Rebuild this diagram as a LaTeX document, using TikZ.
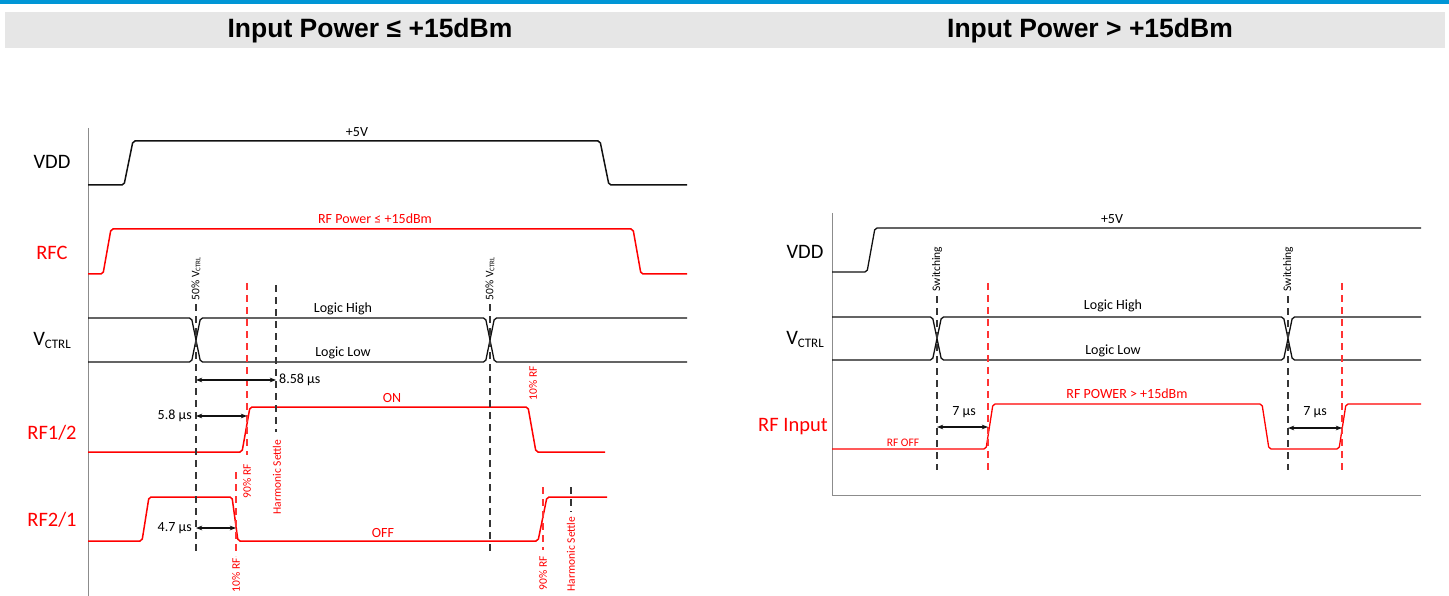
\documentclass[tikz,border=0pt]{standalone}
\usepackage{fontspec}
\setmainfont{Carlito}
\newfontfamily\headfont{Liberation Sans}
\usepackage{tikz}
\usetikzlibrary{positioning,arrows.meta,calc}
\definecolor{rfred}{HTML}{FF0000}
\definecolor{ink}{HTML}{111111}
\definecolor{hdrblue}{HTML}{0096D6}
\definecolor{hdrbg}{HTML}{E6E6E6}
\definecolor{axisgray}{HTML}{8C8C8C}
\tikzset{
  hdr/.style={font=\headfont\bfseries\fontsize{26.5}{26.5}\selectfont,text=black},
  sig/.style={font=\fontsize{20.5}{20.5}\selectfont,text=black},
  sigr/.style={sig,text=rfred},
  lvl/.style={font=\fontsize{14}{14}\selectfont,text=black,inner sep=1pt},
  lvlr/.style={lvl,text=rfred},
  tag/.style={font=\fontsize{11.5}{11.5}\selectfont,rotate=90,inner sep=1pt,text=black},
  tagr/.style={tag,text=rfred},
  wave/.style={line width=1.5pt,rounded corners=2pt,draw=ink},
  waver/.style={wave,draw=rfred},
  guide/.style={line width=1.3pt,dash pattern=on 7pt off 5pt,draw=ink!85},
  guider/.style={guide,draw=rfred!80},
  dim/.style={{Stealth[length=2.2mm]}-{Stealth[length=2.2mm]},line width=1.2pt,draw=ink},
  axisln/.style={line width=1pt,draw=axisgray},
}

\begin{document}
\begin{tikzpicture}[x=1pt,y=-1pt]
  \useasboundingbox (0,0) rectangle (1449,596);
  % header band
  \fill[hdrblue] (0,0) rectangle (1449,4);
  \fill[hdrbg] (5,12) rectangle (1445,48);
  \node[hdr] (hleft) at (370,31) {Input Power ≤ +15dBm};
  \node[hdr] (hright) at (1090,31) {Input Power > +15dBm};

  % ---------- left: input power <= +15dBm ----------
  \draw[axisln] (88,128) -- (88,596);
  \node[sig] (vddl) at (52,162) {VDD};
  \node[sigr] (rfc) at (52,253) {RFC};
  \node[sig] (vctrll) at (52,340) {V\raisebox{-3pt}{\fontsize{13}{13}\selectfont CTRL}};
  \node[sigr] (rf12) at (52,433) {RF1/2};
  \node[sigr] (rf21) at (52,520) {RF2/1};

  \draw[wave] (88,185) -- (124,185) -- (133,141) -- (600,141) -- (609,185) -- (687,185);
  \node[lvl] (fivel) at (357,132) {+5V};
  \draw[waver] (88,274) -- (103,274) -- (111,229) -- (633,229) -- (641,274) -- (687,274);
  \node[lvlr] (rfpow) at (375,219) {RF Power ≤ +15dBm};

  \draw[wave,line width=1.3pt] (88,318) -- (191.5,318) -- (200.5,362) -- (485.5,362) -- (494.5,318) -- (687,318);
  \draw[wave,line width=1.3pt] (88,362) -- (191.5,362) -- (200.5,318) -- (485.5,318) -- (494.5,362) -- (687,362);
  \node[lvl] (hil) at (343,309) {Logic High};
  \node[lvl] (lol) at (343,353) {Logic Low};

  \draw[waver] (88,452) -- (242,452) -- (250,407) -- (528,407) -- (536,452) -- (605,452);
  \node[lvlr] (on) at (392,398) {ON};
  \draw[waver] (88,541) -- (142,541) -- (149,497) -- (232,497) -- (238,541) -- (538,541) -- (547,497) -- (607,497);
  \node[lvlr] (off) at (383,533) {OFF};

  % timing markers
  \foreach \x/\n in {196/a,490/b} {
    \node[tag] (half\n) at (\x,279) {50\% V\raisebox{-1pt}{\fontsize{7}{7}\selectfont CTRL}};
    \draw[guide] (\x,304) -- (\x,553);
  }
  \draw[guider] (247,283) -- (247,455);
  \node[tagr] (ninetya) at (247,481) {90\% RF};
  \draw[guide] (276,285) -- (276,432);
  \node[tagr] (settlea) at (277,477) {Harmonic Settle};
  \node[tagr] (tenb) at (533,383) {10\% RF};
  \draw[guider] (236,472) -- (236,556);
  \node[tagr] (tena) at (236,575) {10\% RF};
  \draw[guider] (543,487) -- (543,550);
  \node[tagr] (ninetyb) at (543,573) {90\% RF};
  \draw[guide] (571,487) -- (571,512);
  \node[tagr] (settleb) at (571,554) {Harmonic Settle};

  \coordinate (ma) at (196,380); \coordinate (mb) at (276,380);
  \coordinate (na) at (196,416); \coordinate (nb) at (247,416);
  \coordinate (oa) at (196,528); \coordinate (ob) at (236,528);
  \foreach \a/\b in {ma/mb,na/nb,oa/ob} \draw[dim] (\a)--(\b);
  \node[lvl,right=2pt of mb] (t858) {8.58 µs};
  \node[lvl,left=3pt of na] (t58) {5.8 µs};
  \node[lvl,left=3pt of oa] (t47) {4.7 µs};

  % ---------- right: input power > +15dBm ----------
  \draw[axisln] (832,213) -- (832,495) -- (1421,495);
  \node[sig] (vddr) at (805,252) {VDD};
  \node[sig] (vctrlr) at (805,339) {V\raisebox{-3pt}{\fontsize{13}{13}\selectfont CTRL}};
  \node[sigr] (rfin) at (793,427) {RF Input};

  \draw[wave,line width=1.3pt] (832,272) -- (867,272) -- (875,228) -- (1421,228);
  \node[lvl] (fiver) at (1112,219) {+5V};
  \draw[wave,line width=1.3pt] (832,317) -- (932.5,317) -- (941.5,360) -- (1283.5,360) -- (1292.5,317) -- (1421,317);
  \draw[wave,line width=1.3pt] (832,360) -- (932.5,360) -- (941.5,317) -- (1283.5,317) -- (1292.5,360) -- (1421,360);
  \node[lvl] (hir) at (1113,306) {Logic High};
  \node[lvl] (lor) at (1113,351) {Logic Low};

  \draw[waver,line width=1.3pt] (832,449) -- (986,449) -- (993,404) -- (1262,404) -- (1269,449) -- (1339,449) -- (1346,404) -- (1421,404);
  \node[lvlr,font=\fontsize{11.5}{11.5}\selectfont] (rfoff) at (903,443) {RF OFF};
  \node[lvlr] (rfhigh) at (1127,394) {RF POWER > +15dBm};

  \foreach \x/\n in {937/a,1288/b} {
    \node[tag] (sw\n) at (\x,269) {Switching};
    \draw[guide] (\x,296) -- (\x,470);
  }
  \foreach \x in {988,1342} \draw[guider] (\x,283) -- (\x,470);

  \coordinate (pa) at (937,427); \coordinate (pb) at (988,427);
  \coordinate (qa) at (1288,428); \coordinate (qb) at (1342,428);
  \foreach \a/\b in {pa/pb,qa/qb} \draw[dim] (\a)--(\b);
  \node[lvl] (t7a) at (964,412) {7 µs};
  \node[lvl] (t7b) at (1315,412) {7 µs};
\end{tikzpicture}
\end{document}
